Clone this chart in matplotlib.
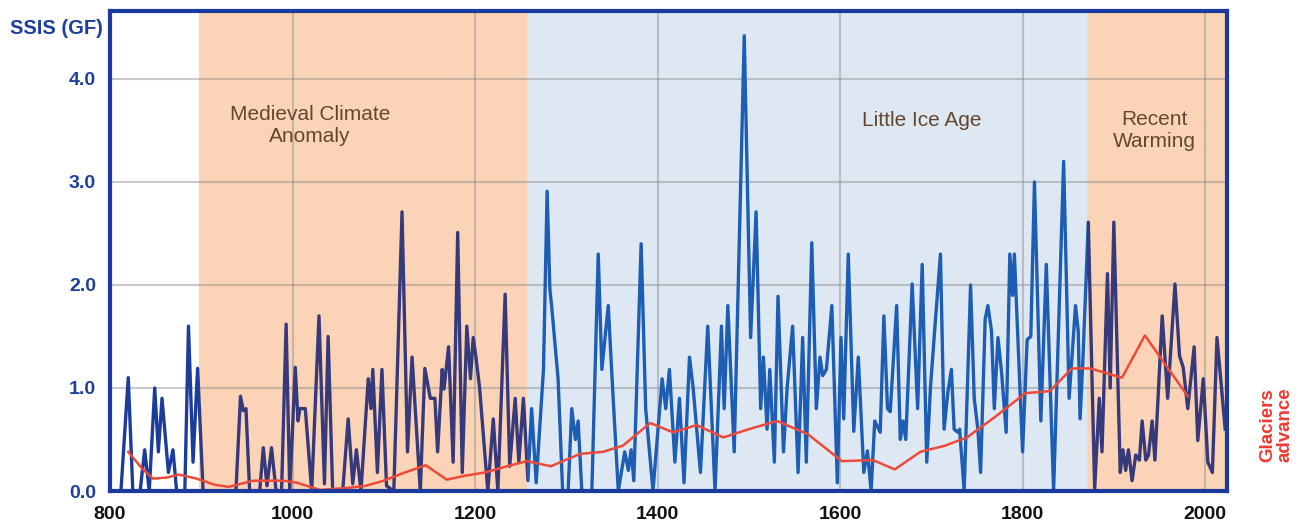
import matplotlib.pyplot as plt
from matplotlib.patches import Rectangle

plt.rcParams['font.family'] = ['Liberation Sans', 'DejaVu Sans']

# SSIS (GF) series
years = [800, 812, 820, 825, 833, 838, 843, 849, 853, 857, 864, 869, 873, 882, 886, 891, 896, 902,
         938, 943, 946, 949, 953, 964, 968, 972, 977, 982, 988, 993, 997, 1003, 1006, 1008, 1014, 1021,
         1029, 1035, 1039, 1044, 1055, 1061, 1066, 1070, 1075, 1083, 1086, 1088, 1093, 1098, 1103, 1111,
         1120, 1126, 1131, 1140, 1145, 1151, 1156, 1159, 1164, 1166, 1171, 1176, 1181, 1186, 1191, 1195,
         1198, 1201, 1205, 1214, 1220, 1225, 1233, 1238, 1244, 1248, 1253, 1258, 1262, 1267, 1275, 1279,
         1282, 1284, 1290, 1291, 1296, 1302, 1306, 1310, 1313, 1317, 1328, 1335, 1339, 1346, 1350, 1357,
         1364, 1368, 1371, 1374, 1382, 1387, 1395, 1405, 1409, 1413, 1419, 1424, 1429, 1435, 1439, 1447,
         1455, 1463, 1470, 1473, 1477, 1484, 1495, 1502, 1508, 1513, 1516, 1520, 1523, 1528, 1532, 1538,
         1542, 1548, 1554, 1559, 1563, 1569, 1574, 1578, 1581, 1585, 1591, 1597, 1601, 1604, 1609, 1615,
         1620, 1626, 1630, 1634, 1638, 1644, 1648, 1652, 1655, 1662, 1666, 1669, 1672, 1679, 1685, 1690,
         1695, 1699, 1704, 1710, 1714, 1718, 1722, 1725, 1729, 1731, 1736, 1743, 1747, 1751, 1754, 1759,
         1762, 1766, 1769, 1773, 1777, 1782, 1786, 1789, 1791, 1800, 1805, 1809, 1813, 1820, 1826, 1834,
         1845, 1851, 1858, 1861, 1863, 1866, 1872, 1879, 1884, 1887, 1893, 1896, 1900, 1907, 1910, 1913,
         1916, 1920, 1924, 1928, 1931, 1935, 1938, 1942, 1945, 1953, 1959, 1967, 1972, 1976, 1981, 1988,
         1992, 1998, 2003, 2008, 2013, 2017, 2022]
ssis = [0, 0, 1.10, 0, 0, 0.40, 0, 1.0, 0.38, 0.9, 0.18, 0.40, 0, 0, 1.6, 0.28, 1.19, 0,
        0, 0.92, 0.78, 0.8, 0, 0, 0.42, 0.05, 0.42, 0, 0, 1.62, 0, 1.2, 0.68, 0.8, 0.8, 0,
        1.70, 0.07, 1.50, 0, 0, 0.70, 0.07, 0.40, 0, 1.09, 0.8, 1.18, 0.18, 1.18, 0.05, 0,
        2.71, 0.38, 1.30, 0, 1.19, 0.9, 0.9, 0.38, 1.18, 0.99, 1.40, 0.28, 2.51, 0.18, 1.60, 1.09,
        1.49, 1.3, 1.0, 0, 0.70, 0, 1.91, 0.24, 0.9, 0.28, 0.9, 0.1, 0.8, 0.08, 1.18, 2.91,
        1.96, 1.79, 1.18, 1.09, 0, 0, 0.8, 0.5, 0.68, 0, 0, 2.30, 1.18, 1.80, 1.12, 0,
        0.38, 0.2, 0.4, 0.1, 2.40, 0.8, 0, 1.09, 0.8, 1.18, 0.28, 0.9, 0.08, 1.30, 1.0, 0.18,
        1.60, 0, 1.60, 0.8, 1.80, 0.38, 4.42, 1.49, 2.71, 0.8, 1.30, 0.6, 1.18, 0.28, 1.89, 0.38,
        1.0, 1.60, 0.18, 1.49, 0.28, 2.41, 0.8, 1.30, 1.12, 1.18, 1.80, 0.08, 1.49, 0.7, 2.30, 0.58,
        1.30, 0.18, 0.39, 0, 0.68, 0.57, 1.70, 0.8, 0.77, 1.80, 0.5, 0.68, 0.5, 2.01, 0.8, 2.20,
        0.28, 1.0, 1.6, 2.30, 0.6, 0.95, 1.18, 0.6, 0.57, 0.6, 0, 2.0, 0.9, 0.6, 0.18, 1.67,
        1.80, 1.55, 0.8, 1.49, 1.15, 0.57, 2.30, 1.9, 2.30, 0.38, 1.47, 1.5, 3.0, 0.68, 2.20, 0,
        3.2, 0.9, 1.80, 1.55, 0.7, 1.25, 2.61, 0.02, 0.9, 0.38, 2.11, 1.0, 2.61, 0.18, 0.4, 0.2,
        0.4, 0.1, 0.35, 0.3, 0.68, 0.3, 0.35, 0.68, 0.3, 1.70, 0.9, 2.01, 1.31, 1.2, 0.8, 1.40,
        0.49, 1.09, 0.28, 0.18, 1.49, 1.1, 0.6]

# glaciers advance curve
glacier_years = [820, 835, 847, 862, 875, 895, 915, 930, 957, 990, 1005, 1030, 1060, 1080, 1100,
                 1120, 1146, 1169, 1190, 1211, 1235, 1257, 1283, 1315, 1340, 1362, 1392, 1417, 1443,
                 1472, 1500, 1531, 1565, 1602, 1636, 1660, 1688, 1715, 1739, 1770, 1803, 1830, 1854,
                 1874, 1909, 1934, 1981]
glacier = [0.38, 0.22, 0.12, 0.13, 0.16, 0.12, 0.06, 0.04, 0.1, 0.1, 0.08, 0.01, 0.03, 0.05, 0.1,
           0.17, 0.25, 0.11, 0.15, 0.18, 0.24, 0.29, 0.24, 0.36, 0.38, 0.44, 0.66, 0.57, 0.64,
           0.52, 0.6, 0.68, 0.55, 0.29, 0.3, 0.21, 0.38, 0.44, 0.52, 0.72, 0.95, 0.97, 1.19,
           1.19, 1.1, 1.51, 0.92]

# climate periods
periods = [(897, 1257, '#fbd4b7', 'Medieval Climate\nAnomaly', 1019, 3.55),
           (1257, 1871, '#dee8f3', 'Little Ice Age', 1690, 3.6),
           (1871, 2030, '#fbd4b7', 'Recent\nWarming', 1945, 3.5)]

x_ticks = [800, 1000, 1200, 1400, 1600, 1800, 2000]
y_ticks = [0.0, 1.0, 2.0, 3.0, 4.0]

frame_col = '#1b3a9e'

fig = plt.figure(figsize=(12.98, 5.30), dpi=100)
ax = fig.add_axes([110 / 1298, 39 / 530, 1117 / 1298, 480 / 530])
ax.set_xlim(800, 2024)
ax.set_ylim(0, 4.66)

for x0, x1, col, label, tx, ty in periods:
    ax.axvspan(x0, x1, color=col, zorder=0, lw=0)
    ax.text(tx, ty, label, ha='center', va='center', fontsize=15, color='#654631',
            linespacing=1.2, zorder=2)

ax.set_xticks(x_ticks)
ax.set_yticks(y_ticks)
ax.grid(True, color='#8a8a8a', alpha=0.45, lw=1.5, zorder=1)
ax.set_axisbelow(True)
ax.tick_params(axis='x', length=0, pad=11)
ax.tick_params(axis='y', length=0, pad=10)
ax.set_xticklabels([str(t) for t in x_ticks], fontsize=14, fontweight='bold', color='#111111')
ax.set_yticklabels(['%.1f' % t for t in y_ticks], fontsize=14, fontweight='bold', color='#1f3f9f')
for s in ax.spines.values():
    s.set_color(frame_col)
    s.set_linewidth(3)
    s.set_zorder(6)

# blue line: darker where it runs over the orange bands
seg_cols = [(795, 897, '#1c3c9c'), (897, 1257, '#36397a'), (1257, 1871, '#1d5db3'),
            (1871, 2030, '#36397a')]
for x0, x1, col in seg_cols:
    ln, = ax.plot(years, ssis, color=col, lw=2.4, solid_joinstyle='round', zorder=4)
    clip = Rectangle((x0, -1), x1 - x0, 10, transform=ax.transData)
    ln.set_clip_path(clip)

ax.plot(glacier_years, glacier, color='#ee4a3a', lw=1.8, zorder=5)

fig.text(10 / 1298, 1 - 28 / 530, 'SSIS (GF)', fontsize=14.5, fontweight='bold', color='#1f3f9f',
         va='center', ha='left')
fig.text(1276 / 1298, 1 - 425 / 530, 'Glaciers\nadvance', fontsize=13.5, fontweight='bold',
         color='#ee3a30', rotation=90, ha='center', va='center', linespacing=1.0)

fig.savefig('out.png', dpi=100)
